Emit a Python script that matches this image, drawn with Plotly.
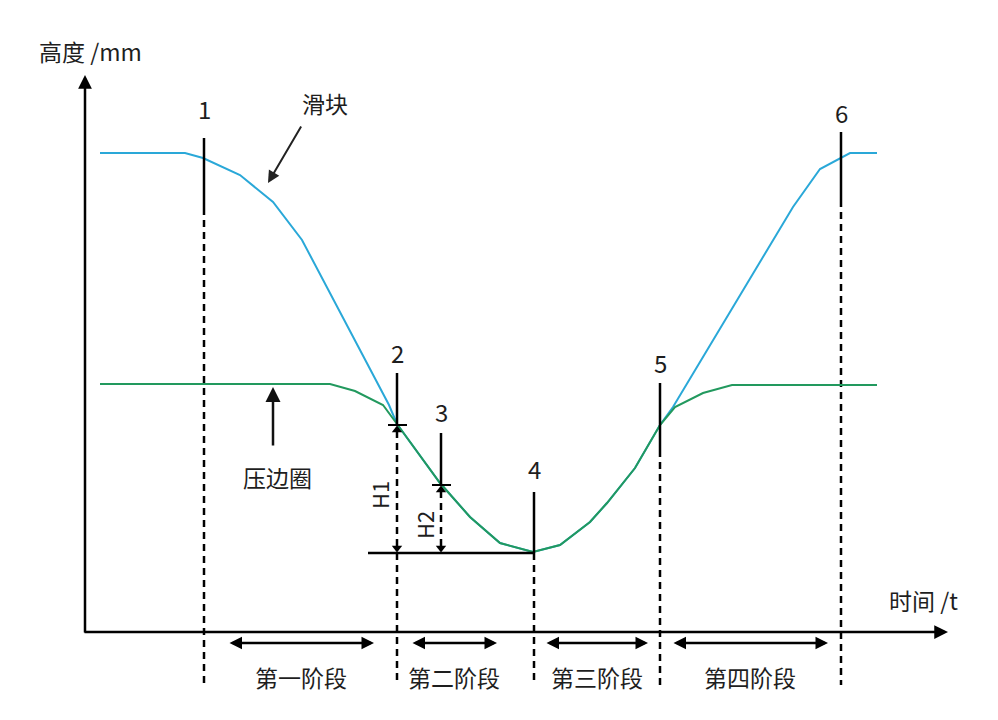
import plotly.graph_objects as go

# schematic units: x = time, y = height (origin at the axis corner)
# slider (滑块) and blank holder (压边圈) curves
slider_t = [15, 100, 118, 155, 188, 217, 304, 312, 355, 385, 415, 448, 475, 505,
            522, 550, 575, 588, 708, 735, 765, 792]
slider_h = [479, 479, 474, 457, 430, 392, 227, 208, 149, 115, 89, 80, 87, 110,
            129, 164, 207, 225, 425, 463, 479, 479]
holder_t = [15, 245, 270, 298, 312, 355, 385, 415, 448, 475, 505, 522, 550, 575,
            590, 618, 647, 792]
holder_h = [248, 248, 241, 227, 208, 149, 115, 89, 80, 87, 110, 129, 164, 207,
            225, 239, 247, 247]

# key moments 1..6
point_names = ["1", "2", "3", "4", "5", "6"]
point_t = [119, 312, 356, 449, 575, 756]
solid_top = [494, 259, 199, 140, 249, 500]
solid_bot = [424, 207, 147, 79, 182, 432]
label_h = [524, 280, 221, 164, 270, 520]
guide_bottom = -53          # dashed guides run below the time axis
bottom_h = 79               # lowest point (moment 4)

# stages along the time axis
stage_names = ["第一阶段", "第二阶段", "第三阶段", "第四阶段"]
stage_from = [143, 326, 460, 587]
stage_to = [289, 412, 563, 743]

# page body adds an 8px offset, so the ranges are shifted to compensate
X_RANGE = [-77, 921]
Y_RANGE = [-96, 624]
BLUE = "#2aa8d8"
GREEN = "#22995e"
FONT = "Noto Sans CJK SC"
TXT = "#1e1e1e"
DASH = "7px,5px"

fig = go.Figure()

# dashed guide lines; moment 2 starts below the H1 arrow, moment 3 has none
for i, t in enumerate(point_t):
    if point_names[i] == "3":
        continue
    start = bottom_h if point_names[i] == "2" else solid_bot[i]
    fig.add_trace(go.Scatter(x=[t, t], y=[start, guide_bottom], mode="lines",
                             line=dict(color="black", width=2.5, dash=DASH),
                             hoverinfo="skip"))

# curves
fig.add_trace(go.Scatter(x=slider_t, y=slider_h, mode="lines",
                         line=dict(color=BLUE, width=2), hoverinfo="skip"))
fig.add_trace(go.Scatter(x=holder_t, y=holder_h, mode="lines",
                         line=dict(color=GREEN, width=2), hoverinfo="skip"))

# solid markers at each moment
for i, t in enumerate(point_t):
    fig.add_trace(go.Scatter(x=[t, t], y=[solid_top[i], solid_bot[i]], mode="lines",
                             line=dict(color="black", width=2.5), hoverinfo="skip"))
    fig.add_annotation(x=t, y=label_h[i], text=point_names[i], showarrow=False,
                       font=dict(family=FONT, size=24, color=TXT))

# bottom reference line
t2, t3, t4 = point_t[1], point_t[2], point_t[3]
fig.add_trace(go.Scatter(x=[t2 - 29, t4], y=[bottom_h, bottom_h], mode="lines",
                         line=dict(color="black", width=2.5), hoverinfo="skip"))

# H1 / H2 dimension arrows with tick marks
for t, top, name, dx in [(t2, solid_bot[1], "H1", -18), (t3, solid_bot[2], "H2", -17)]:
    fig.add_trace(go.Scatter(x=[t - 9, t + 10], y=[top, top], mode="lines",
                             line=dict(color="black", width=2), hoverinfo="skip"))
    fig.add_trace(go.Scatter(x=[t, t], y=[top - 6, bottom_h + 6], mode="lines",
                             line=dict(color="black", width=2.5, dash=DASH),
                             hoverinfo="skip"))
    fig.add_trace(go.Scatter(x=[t, t], y=[top - 5, bottom_h + 5], mode="markers",
                             marker=dict(symbol=["triangle-up", "triangle-down"],
                                         size=9, color="black"),
                             hoverinfo="skip"))
    fig.add_annotation(x=t + dx, y=(top + bottom_h) / 2 - 6, text=name, showarrow=False,
                       textangle=-90, font=dict(family=FONT, size=22, color=TXT))

# axes with arrow heads
fig.add_annotation(x=0, y=557, ax=0, ay=-2, xref="x", yref="y", axref="x", ayref="y",
                   text="", showarrow=True, arrowhead=2, arrowsize=1.1, arrowwidth=2.5,
                   arrowcolor="black")
fig.add_annotation(x=863, y=0, ax=-2, ay=0, xref="x", yref="y", axref="x", ayref="y",
                   text="", showarrow=True, arrowhead=2, arrowsize=1.1, arrowwidth=2.5,
                   arrowcolor="black")
fig.add_annotation(x=5, y=581, text="高度 /mm", showarrow=False,
                   font=dict(family=FONT, size=23, color=TXT))
fig.add_annotation(x=838, y=32, text="时间 /t", showarrow=False,
                   font=dict(family=FONT, size=23, color=TXT))

# curve labels
fig.add_annotation(x=183, y=449, ax=217, ay=507, xref="x", yref="y", axref="x", ayref="y",
                   text="", showarrow=True, arrowhead=2, arrowsize=1.2, arrowwidth=2,
                   arrowcolor="#222")
fig.add_annotation(x=240, y=529, text="滑块", showarrow=False,
                   font=dict(family=FONT, size=23, color=TXT))
fig.add_annotation(x=188, y=245, ax=188, ay=185, xref="x", yref="y", axref="x", ayref="y",
                   text="", showarrow=True, arrowhead=2, arrowsize=1.2, arrowwidth=2.5,
                   arrowcolor="#111")
fig.add_annotation(x=192, y=155, text="压边圈", showarrow=False,
                   font=dict(family=FONT, size=23, color=TXT))

# stage arrows and names
for name, a, b in zip(stage_names, stage_from, stage_to):
    fig.add_annotation(x=b, y=-11, ax=a, ay=-11, xref="x", yref="y", axref="x", ayref="y",
                       text="", showarrow=True, arrowhead=2, arrowside="end+start",
                       arrowsize=1, arrowwidth=2.5, arrowcolor="black")
    fig.add_annotation(x=(a + b) / 2, y=-45, text=name, showarrow=False,
                       font=dict(family=FONT, size=23, color=TXT))

fig.update_layout(
    width=998, height=720, showlegend=False,
    paper_bgcolor="white", plot_bgcolor="white",
    margin=dict(l=0, r=0, t=0, b=0),
    xaxis=dict(range=X_RANGE, visible=False, fixedrange=True),
    yaxis=dict(range=Y_RANGE, visible=False, fixedrange=True),
)

fig.write_html("out.html")
